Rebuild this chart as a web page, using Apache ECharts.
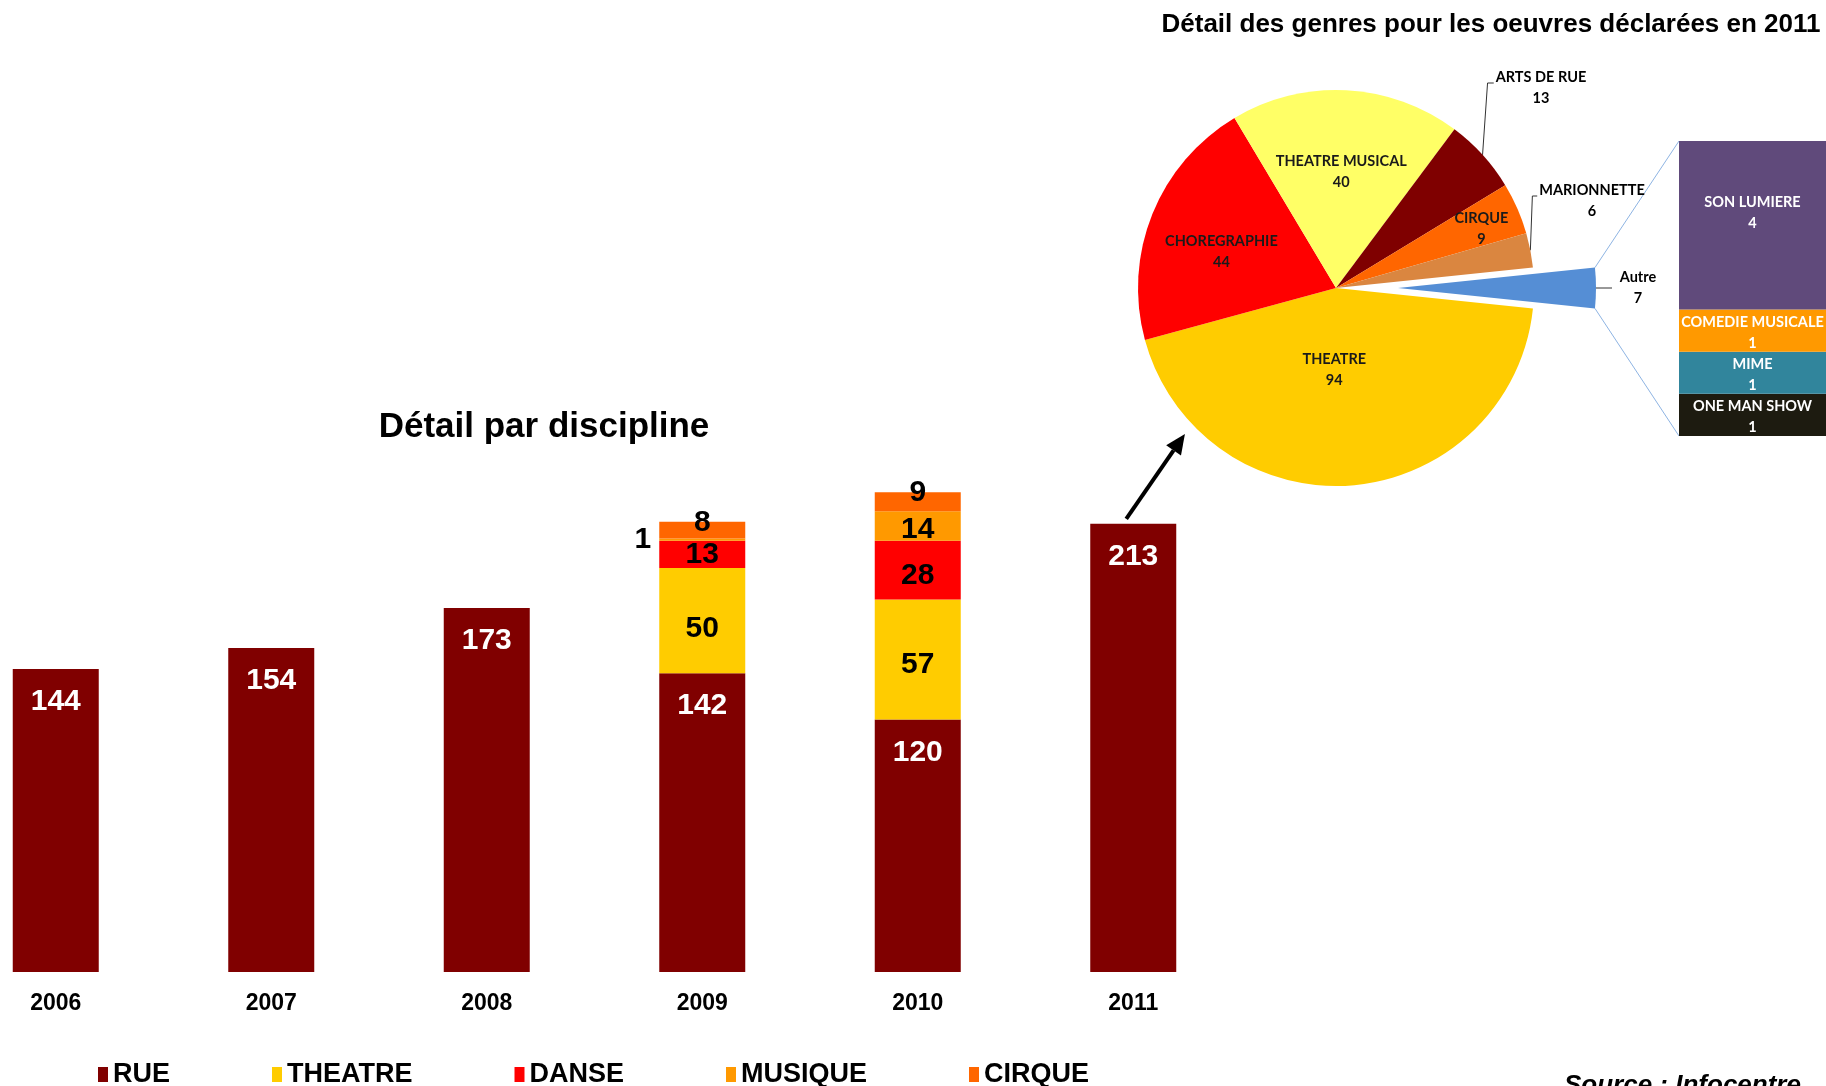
<!DOCTYPE html>
<html>
<head>
<meta charset="utf-8">
<title>Détail par discipline</title>
<script src="https://cdn.jsdelivr.net/npm/echarts@6/dist/echarts.min.js"></script>
<style>
html, body { margin: 0; padding: 0; background: #fff; }
#chart { width: 1826px; height: 1086px; }
</style>
</head>
<body>
<div id="chart"></div>
<script>
// oeuvres déclarées par discipline
const years = ['2006', '2007', '2008', '2009', '2010', '2011'];
const rue = [144, 154, 173, 142, 120, 213];
const theatre = ['-', '-', '-', 50, 57, '-'];
const danse = ['-', '-', '-', 13, 28, '-'];
const musique = ['-', '-', '-', 1, 14, '-'];
const cirque = ['-', '-', '-', 8, 9, '-'];

// genres 2011 (camembert), sens horaire a partir de "Autre"
const genreNames = ['Autre', 'THEATRE', 'CHOREGRAPHIE', 'THEATRE MUSICAL', 'ARTS DE RUE', 'CIRQUE', 'MARIONNETTE'];
const genreValues = [7, 94, 44, 40, 13, 9, 6];

// detail de "Autre", de bas en haut
const autreNames = ['ONE MAN SHOW', 'MIME', 'COMEDIE MUSICALE', 'SON LUMIERE'];
const autreValues = [1, 1, 1, 4];

const ARIAL = "'Liberation Sans', Arial, sans-serif";
const CALIBRI = "Lato, 'Open Sans', sans-serif";

const genreColors = ['#558ED5', '#FFCC00', '#FF0000', '#FFFF66', '#7F0000', '#FF6600', '#DA8640'];
const autreColors = ['#1D1B10', '#31859C', '#FF9900', '#604A7B'];

// mise en page
const PIE_CX = 1336, PIE_CY = 288, PIE_R = 198, PIE_OFFSET = 62;
const G2 = { left: 1679, top: 141, width: 147, height: 295 };

const chart = echarts.init(document.getElementById('chart'));

function stackSeries(name, values, color, labelColor, tweaks) {
    return {
        name: name,
        type: 'bar',
        stack: 'total',
        barWidth: 86,
        xAxisIndex: 0,
        yAxisIndex: 0,
        itemStyle: { color: color },
        label: {
            show: true,
            position: 'inside',
            color: labelColor,
            fontFamily: ARIAL,
            fontWeight: 'bold',
            fontSize: 30
        },
        data: values.map((v, i) => (tweaks && tweaks[i]) ? { value: v, label: tweaks[i] } : v)
    };
}

const rueSeries = stackSeries('RUE', rue, '#800000', '#fff');
rueSeries.label.position = 'insideTop';
rueSeries.label.distance = 18;

const barSeries = [
    rueSeries,
    stackSeries('THEATRE', theatre, '#FFCC00', '#000', { 3: { offset: [0, 8] }, 4: { offset: [0, 5] } }),
    stackSeries('DANSE', danse, '#FF0000', '#000', { 4: { offset: [0, 6] } }),
    stackSeries('MUSIQUE', musique, '#FF9900', '#000', { 3: { position: 'left', distance: 8 }, 4: { offset: [0, 4] } }),
    stackSeries('CIRQUE', cirque, '#FF6600', '#000', { 3: { offset: [0, -7] }, 4: { offset: [0, -9] } })
];

// etiquettes du camembert : decalages des etiquettes internes, ancrages des externes
const genreTotal = genreValues.reduce((a, b) => a + b, 0);
const pieLabelMoves = { 1: [-5, -10], 2: [-10, 1], 3: [0, -7], 5: [26, -9] };
const pieOutside = [0, 4, 6];
const pieLabelAnchors = { 4: [205, -200, 5], 6: [256, -87, 2] };

const pieSeries = {
    type: 'pie',
    center: [PIE_CX, PIE_CY],
    radius: PIE_R,
    startAngle: genreValues[0] / genreTotal * 180,
    clockwise: true,
    selectedMode: 'single',
    selectedOffset: PIE_OFFSET,
    avoidLabelOverlap: false,
    label: {
        show: true,
        position: 'inside',
        formatter: '{b}\n{c}',
        fontFamily: CALIBRI,
        fontWeight: 'bold',
        fontSize: 14.5,
        lineHeight: 21,
        color: '#1a1a1a'
    },
    labelLine: { show: false },
    emphasis: { disabled: true },
    data: genreNames.map((n, i) => {
        const item = { name: n, value: genreValues[i], itemStyle: { color: genreColors[i] } };
        if (i === 0) item.selected = true;
        if (pieOutside.indexOf(i) >= 0) {
            item.label = { position: 'outside', color: '#000' };
            item.labelLine = { show: true, length: 8, length2: 8, lineStyle: { color: '#333', width: 1 } };
        }
        if (i === 0) {
            item.label.formatter = '{t|{b}}\n{t|{c}}';
            item.label.rich = { t: { width: 42, align: 'center', fontFamily: CALIBRI, fontWeight: 'bold', fontSize: 14.5, lineHeight: 21, color: '#000' } };
        }
        return item;
    }),
    labelLayout: function (params) {
        const i = params.dataIndex;
        if (pieLabelAnchors[i] && params.labelLinePoints) {
            const a = pieLabelAnchors[i];
            const x = PIE_CX + a[0], y = PIE_CY + a[1];
            const p0 = params.labelLinePoints[0];
            const ly = y - 5;
            return {
                x: x, y: y, align: 'center', verticalAlign: 'middle',
                labelLinePoints: [p0, [p0[0] + a[2], ly], [x - params.labelRect.width / 2 - 2, ly]]
            };
        }
        if (pieLabelMoves[i]) {
            return { dx: pieLabelMoves[i][0], dy: pieLabelMoves[i][1] };
        }
    }
};

const autreSeries = autreNames.map((n, i) => ({
    name: n,
    type: 'bar',
    stack: 'autre',
    xAxisIndex: 1,
    yAxisIndex: 1,
    barWidth: '100%',
    itemStyle: { color: autreColors[i] },
    label: {
        show: true,
        position: 'inside',
        formatter: '{a}\n{c}',
        color: '#fff',
        fontFamily: CALIBRI,
        fontWeight: 'bold',
        fontSize: 14.5,
        lineHeight: 21,
        offset: i === 3 ? [0, -12] : [0, 2]
    },
    data: [autreValues[i]]
}));

chart.setOption({
    animation: false,
    backgroundColor: '#fff',
    grid: [
        { left: -52, width: 1293, top: 446, bottom: 114, outerBoundsMode: 'none' },
        { left: G2.left, top: G2.top, width: G2.width, height: G2.height, outerBoundsMode: 'none' }
    ],
    xAxis: [
        {
            type: 'category',
            gridIndex: 0,
            data: years,
            axisLine: { show: false },
            axisTick: { show: false },
            axisLabel: { color: '#000', fontFamily: ARIAL, fontWeight: 'bold', fontSize: 23, margin: 20 }
        },
        { type: 'category', gridIndex: 1, data: ['Autre'], show: false }
    ],
    yAxis: [
        { type: 'value', gridIndex: 0, min: 0, max: 250, show: false },
        { type: 'value', gridIndex: 1, min: 0, max: 7, show: false }
    ],
    legend: {
        data: ['RUE', 'THEATRE', 'DANSE', 'MUSIQUE', 'CIRQUE'],
        left: 98,
        top: 1061,
        icon: 'rect',
        itemWidth: 10,
        itemHeight: 15,
        itemGap: 102,
        padding: 0,
        selectedMode: false,
        textStyle: { color: '#000', fontFamily: ARIAL, fontWeight: 'bold', fontSize: 27 }
    },
    series: barSeries.concat([pieSeries], autreSeries)
});

// lignes de liaison camembert -> barre "Autre", fleche 2011 -> camembert
const half = genreValues[0] / genreTotal * Math.PI;
const ax = PIE_CX + PIE_OFFSET + PIE_R * Math.cos(half);
const ayTop = PIE_CY - PIE_R * Math.sin(half);
const ayBot = PIE_CY + PIE_R * Math.sin(half);

const top2011 = chart.convertToPixel({ gridIndex: 0 }, [5, rue[5]]);
const start = [top2011[0] - 7, top2011[1] - 5];
const endAng = -136 * Math.PI / 180;
const end = [PIE_CX + (PIE_R + 12) * Math.cos(endAng), PIE_CY - (PIE_R + 12) * Math.sin(endAng)];
const len = Math.hypot(end[0] - start[0], end[1] - start[1]);
const ux = (end[0] - start[0]) / len, uy = (end[1] - start[1]) / len;
const headLen = 20, headHalf = 9;
const base = [end[0] - ux * headLen, end[1] - uy * headLen];

chart.setOption({
    graphic: [
        {
            id: 'title1', type: 'text', x: 544, y: 427,
            style: { text: 'Détail par discipline', font: 'bold 35px ' + ARIAL, fill: '#000', align: 'center', verticalAlign: 'middle' }
        },
        {
            id: 'title2', type: 'text', x: 1491, y: 25,
            style: { text: 'Détail des genres pour les oeuvres déclarées en 2011', font: 'bold 26px ' + ARIAL, fill: '#000', align: 'center', verticalAlign: 'middle' }
        },
        {
            id: 'source', type: 'text', x: 1564, y: 1073,
            style: { text: 'Source : Infocentre', font: 'italic bold 26px ' + ARIAL, fill: '#000', align: 'left', verticalAlign: 'top' }
        },
        {
            id: 'linkTop', type: 'line', silent: true,
            shape: { x1: ax, y1: ayTop, x2: G2.left, y2: G2.top },
            style: { stroke: '#8EB4E3', lineWidth: 1 }
        },
        {
            id: 'linkBot', type: 'line', silent: true,
            shape: { x1: ax, y1: ayBot, x2: G2.left, y2: G2.top + G2.height },
            style: { stroke: '#8EB4E3', lineWidth: 1 }
        },
        {
            id: 'arrowLine', type: 'line', silent: true,
            shape: { x1: start[0], y1: start[1], x2: base[0], y2: base[1] },
            style: { stroke: '#000', lineWidth: 4 }
        },
        {
            id: 'arrowHead', type: 'polygon', silent: true,
            shape: {
                points: [
                    end,
                    [base[0] - uy * headHalf, base[1] + ux * headHalf],
                    [base[0] + uy * headHalf, base[1] - ux * headHalf]
                ]
            },
            style: { fill: '#000' }
        }
    ]
});

window.addEventListener('resize', function () {
    chart.resize();
});
</script>
</body>
</html>
